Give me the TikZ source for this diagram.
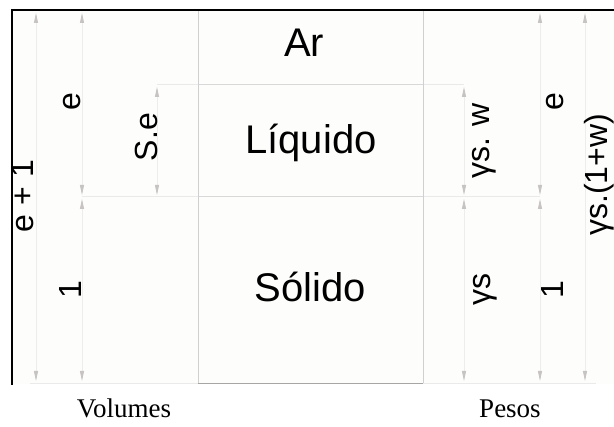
\documentclass[tikz,border=0pt]{standalone}
\usepackage{fontspec}
\setmainfont{Liberation Serif}
\newfontfamily\arialf{Liberation Sans}
\usetikzlibrary{arrows.meta}
\definecolor{dimline}{HTML}{EEECEC}
\definecolor{dimtip}{HTML}{C8C3C3}
\definecolor{gridin}{HTML}{D8D8D8}
\definecolor{gridout}{HTML}{EAEAEA}
\definecolor{boxline}{HTML}{D0D0D0}
\definecolor{boxbottom}{HTML}{A8A6A4}
\definecolor{paper}{HTML}{FDFDFB}
\begin{document}
\begin{tikzpicture}[x=1pt,y=-1pt,
  dimtipstyle/.tip={Triangle[width=4pt,length=10pt,color=dimtip]},
  dimension/.style={draw=dimline, line width=0.8pt, dimtipstyle-dimtipstyle},
  frameline/.style={draw=black, line width=1.4pt},
  phase/.style={font=\arialf\fontsize{40}{40}\selectfont, anchor=base, inner sep=0pt},
  sidelabel/.style={font=\arialf\fontsize{32}{32}\selectfont, rotate=90, anchor=base, inner sep=0pt},
  caption/.style={font=\fontsize{27}{27}\selectfont, anchor=base, inner sep=0pt}]
\useasboundingbox (0,0) rectangle (614,427);
\fill[white] (0,0) rectangle (614,427);
\fill[paper] (12,10) rectangle (614,384);

% coordinates of the phase box
\coordinate (btl) at (198,10);
\coordinate (btr) at (423,10);
\coordinate (bbl) at (198,383);
\coordinate (bbr) at (423,383);
\coordinate (h1a) at (157,84.5);
\coordinate (h1b) at (198,84.5);
\coordinate (h1c) at (423,84.5);
\coordinate (h1d) at (464,84.5);
\coordinate (h2a) at (82,196.5);
\coordinate (h2b) at (198,196.5);
\coordinate (h2c) at (423,196.5);
\coordinate (h2d) at (540,196.5);
\coordinate (h3a) at (30,383);
\coordinate (h3d) at (596,383);

% light guide lines
\draw[gridout, line width=0.8pt] (h1a) -- (h1b) (h1c) -- (h1d);
\draw[gridout, line width=0.8pt] (h2a) -- (h2b) (h2c) -- (h2d);
\draw[gridout, line width=0.8pt] (h3a) -- (bbl) (bbr) -- (h3d);
\draw[gridin, line width=0.8pt] (h1b) -- (h1c);
\draw[gridin, line width=0.8pt] (h2b) -- (h2c);
\draw[boxline, line width=0.9pt] (btl) -- (bbl);
\draw[boxline, line width=0.9pt] (btr) -- (bbr);
\draw[boxbottom, line width=0.9pt] (bbl) -- (bbr);

% dimension lines, volumes
\coordinate (v1t) at (36,13);   \coordinate (v1b) at (36,381);
\coordinate (v2t) at (82,13);   \coordinate (v2m) at (82,195);
\coordinate (v2n) at (82,199);  \coordinate (v2b) at (82,381);
\coordinate (v3t) at (157,87);  \coordinate (v3b) at (157,195);
\draw[dimension] (v1t) -- (v1b);
\draw[dimension] (v2t) -- (v2m);
\draw[dimension] (v2n) -- (v2b);
\draw[dimension] (v3t) -- (v3b);

% dimension lines, weights
\coordinate (p1t) at (464,87);  \coordinate (p1m) at (464,195);
\coordinate (p1n) at (464,199); \coordinate (p1b) at (464,381);
\coordinate (p2t) at (540,13);  \coordinate (p2m) at (540,195);
\coordinate (p2n) at (540,199); \coordinate (p2b) at (540,381);
\coordinate (p3t) at (585,13);  \coordinate (p3b) at (585,381);
\draw[dimension] (p1t) -- (p1m);
\draw[dimension] (p1n) -- (p1b);
\draw[dimension] (p2t) -- (p2m);
\draw[dimension] (p2n) -- (p2b);
\draw[dimension] (p3t) -- (p3b);

% black frame
\coordinate (fr1) at (12,385);
\coordinate (fr2) at (12,10);
\coordinate (fr3) at (614,10);
\draw[frameline] (fr1) -- (fr2) -- (fr3);

% phase labels
\node[phase] (ar)  at (304,57)  {Ar};
\node[phase] (liq) at (311,154) {Líquido};
\node[phase] (sol) at (310,302) {Sólido};

% volume labels
\node[sidelabel] (ve1) at (34,196)  {e + 1};
\node[sidelabel] (ve)  at (80,102)  {e};
\node[sidelabel] (vone) at (81,290) {1};
\node[sidelabel] (vse) at (157,137) {S.e};

% weight labels
\node[sidelabel] (pgw)  at (489,141) {γs. w};
\node[sidelabel] (pgs)  at (490,290) {γs};
\node[sidelabel] (pe)   at (563,102) {e};
\node[sidelabel] (pone) at (563,290) {1};
\node[sidelabel] (ptot) at (607,175) {γs.(1+w)};

% captions
\node[caption] (vol) at (124,418) {Volumes};
\node[caption] (pes) at (510,418) {Pesos};
\end{tikzpicture}
\end{document}
